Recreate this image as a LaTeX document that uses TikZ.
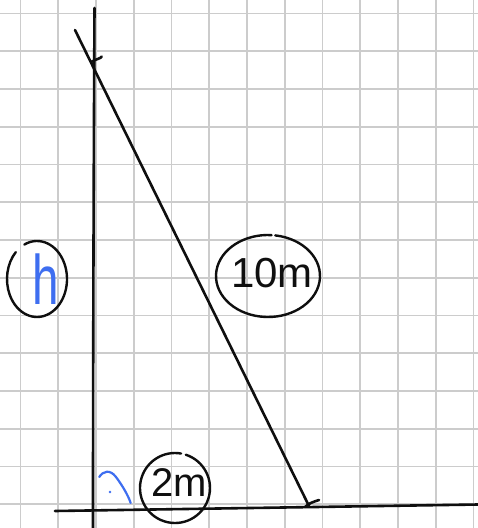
\documentclass[tikz,border=0pt]{standalone}
\usepackage{fontspec}
\setmainfont{Liberation Sans}
\definecolor{gridc}{RGB}{204,204,204}
\definecolor{pen}{RGB}{15,15,15}
\definecolor{bluepen}{RGB}{62,110,240}
\begin{document}
\begin{tikzpicture}[x=1pt,y=-1pt,
  gridline/.style={draw=gridc,line width=1.8pt},
  inkline/.style={draw=pen,line width=2.6pt,line cap=round,line join=round},
  ring/.style={draw=pen,line width=2.4pt,line cap=round},
  lbl/.style={inner sep=0pt,text=pen}]
\useasboundingbox[fill=white] (0,0) rectangle (478,528);
% grid
\foreach \k in {0,...,12}{\draw[gridline] ({20.5+37.75*\k},0) -- ({20.5+37.75*\k},528);}
\foreach \k in {0,...,13}{\draw[gridline] (0,{13.5+37.75*\k}) -- (478,{13.5+37.75*\k});}
% points
\coordinate (ytop) at (94.5,8);
\coordinate (ybot) at (93,528);
\coordinate (xl) at (55,511);
\coordinate (xr) at (478,504.5);
\coordinate (htop) at (75,30);
\coordinate (hbot) at (309,506);
% axes
\draw[inkline] (ytop) .. controls (93.5,200) and (93,400) .. (ybot);
\draw[inkline] (xl) -- (xr);
% hypotenuse
\draw[inkline] (htop) -- (hbot);
\draw[inkline] (305,507) .. controls (310,503) .. (319,500);
\draw[inkline] (91.7,61.7) .. controls (96,59) and (101,58.5) .. (101.7,56.5);
% labels
\node[lbl,text=bluepen,font=\fontsize{70}{70}\selectfont,xscale=0.68] (h) at (46,279) {h};
\node[lbl,font=\fontsize{42}{42}\selectfont] (ten) at (272,273) {10m};
\node[lbl,font=\fontsize{40}{40}\selectfont] (two) at (179,483) {2m};
% hand-drawn rings
\draw[ring] ([xshift=-9pt]h.center) ++(-115:30 and 38) arc[start angle=-115,delta angle=340,x radius=30,y radius=38];
\draw[ring] ([xshift=-4pt,yshift=-3pt]ten.center) ++(-82:52 and 41) arc[start angle=-82,delta angle=356,x radius=52,y radius=41];
\draw[ring] ([xshift=-4pt,yshift=-5pt]two.center) ++(-72:35 and 35) arc[start angle=-72,delta angle=352,x radius=35,y radius=35];
% blue mark
\draw[draw=bluepen,line width=2.2pt,line cap=round] (99.3,477) .. controls (103,471) and (110,469) .. (116,477) .. controls (122,485) and (128,495) .. (130.7,503);
\fill[bluepen] (110,492) circle (1.4);
\end{tikzpicture}
\end{document}
